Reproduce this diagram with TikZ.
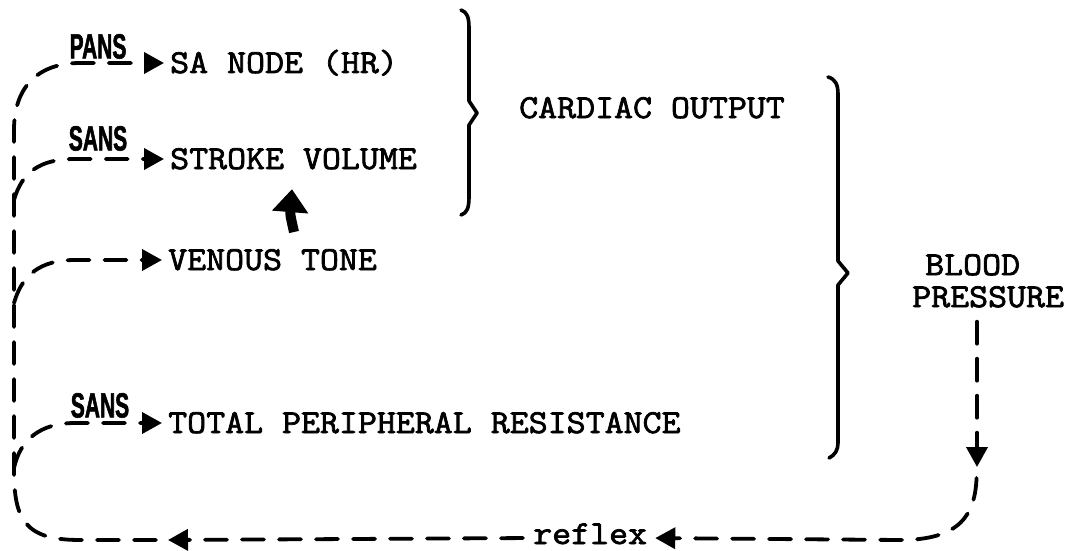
\documentclass[tikz,border=0pt]{standalone}
\usepackage{fontspec}
\newfontfamily\twfont{Latin Modern Mono}[FakeBold=2.2, FakeStretch=1.1]
\newfontfamily\labfont{Liberation Sans Bold}[FakeStretch=0.6, FakeBold=1.5]
\usetikzlibrary{arrows.meta}
\begin{document}
\begin{tikzpicture}[x=1pt,y=-1pt,
  dsh/.style={line width=3.8pt, dash pattern=on 22pt off 15pt, line cap=round},
  tip/.style={-{Triangle[length=20pt,width=21pt]}},
  txt/.style={font=\fontsize{33.5}{32}\twfont, inner sep=0pt, text height=20pt, text depth=0pt},
  bptxt/.style={font=\fontsize{33.5}{32}\twfont, inner sep=0pt, align=left},
  lab/.style={font=\fontsize{35}{35}\labfont, inner sep=0pt},
  brace/.style={line width=3.6pt, line join=round, line cap=round},
  fat/.style={line width=10pt, -{Triangle[length=23pt,width=35pt]}}]
\useasboundingbox (0,0) rectangle (1066,551);
% text nodes
\node[txt,anchor=west] (sa) at (170,63) {SA NODE (HR)};
\node[txt,anchor=west] (sv) at (170,159) {STROKE VOLUME};
\node[txt,anchor=west] (vt) at (168,260) {VENOUS TONE};
\node[txt,anchor=west] (tpr) at (168,423) {TOTAL PERIPHERAL RESISTANCE};
\node[txt,anchor=west] (co) at (519,108) {CARDIAC OUTPUT};
\node[bptxt,anchor=north west] (bp) at (912,254) {\hspace{13pt}BLOOD\\PRESSURE};
\node[txt,text height=12pt,anchor=west] (rf) at (533,538) {reflex};
\node[lab,anchor=south] (pans) at (98,59) {PANS};
\node[lab,anchor=south] (sans1) at (98,151) {SANS};
\node[lab,anchor=south] (sans2) at (100,418) {SANS};
% coordinates
\coordinate (bptip) at (977,467);
\coordinate (c1) at (168,540);
\coordinate (j1) at (14,200);
\coordinate (j2) at (14,303);
\coordinate (j3) at (14,468);
\coordinate (fattail) at (294,232);
% braces
\draw[brace] (461,10) .. controls (467,12) and (469,17) .. (469,28) -- (469,101) -- (477,113) -- (469,125) -- (469,197) .. controls (469,208) and (467,213) .. (461,215);
\draw[brace] (828,77) .. controls (835,79) and (838,84) .. (838,94) -- (838,261) -- (848,273) -- (838,285) -- (838,443) .. controls (838,450) and (835,455) .. (829,458);
% blood pressure feedback
\draw[dsh,tip,shorten <=14pt] (bptip |- bp.south) -- (bptip);
\draw[dsh,tip,shorten <=11pt,shorten >=8pt] (bptip) .. controls (975,515) and (960,540) .. (900,540) -- (rf.east);
\draw[dsh,tip,shorten <=10pt] (rf.west) -- (c1);
\draw[dsh,tip,shorten <=12pt,shorten >=6pt] (c1) -- (80,540) .. controls (25,540) and (14,520) .. (14,470) -- (14,130) .. controls (14,85) and (40,63) .. (80,63) -- (sa.west);
% branches
\draw[dsh,tip,shorten >=6pt] (j1) .. controls (22,172) and (40,159) .. (75,159) -- (sv.west);
\draw[dsh,tip,shorten >=6pt] (j2) .. controls (22,275) and (40,260) .. (75,260) -- (vt.west);
\draw[dsh,tip,shorten >=6pt] (j3) .. controls (20,440) and (40,423) .. (75,423) -- (tpr.west);
% venous tone -> stroke volume
\draw[fat,shorten >=20pt] (fattail) .. controls (290,214) .. (sv.south);
\end{tikzpicture}
\end{document}
